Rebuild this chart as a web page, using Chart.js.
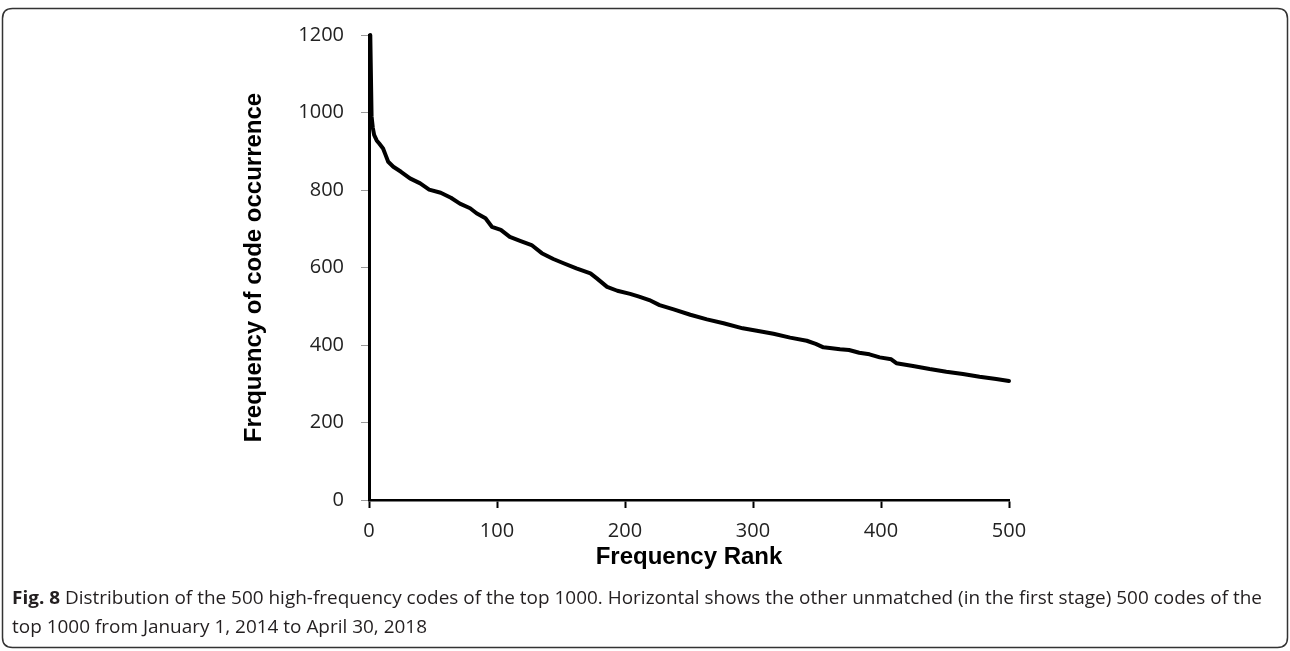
<!DOCTYPE html>
<html>
<head>
<meta charset="utf-8">
<script src="https://cdn.jsdelivr.net/npm/chart.js@4/dist/chart.umd.min.js"></script>
<style>
  html, body { margin: 0; padding: 0; background: #fff; }
  #wrap { width: 1290px; height: 651px; }
</style>
</head>
<body>
<div id="wrap"><canvas id="c" width="1290" height="651"></canvas></div>
<script>
// Frequency rank (x) and frequency of code occurrence (y)
const ranks = [1,2,3,4,6,8,11,13,15,19,25,32,40,47,56,64,71,79,84,91,96,103,110,118,127,135,144,152,162,173,178,186,194,204,211,219,227,238,251,264,277,292,303,316,329,342,349,355,360,368,375,383,391,399,408,412,425,438,451,464,477,490,500];
const freq = [1200,990,960,942,928,920,907,890,873,860,847,830,817,801,793,780,765,753,740,727,705,697,679,669,658,637,622,611,598,585,572,550,540,532,525,516,503,492,478,466,456,443,437,429,419,411,403,394,392,389,387,380,376,368,363,353,346,338,331,325,318,312,307];
const xTicks = [0,100,200,300,400,500];
const yTicks = [0,200,400,600,800,1000,1200];
const xTitle = 'Frequency Rank';
const yTitle = 'Frequency of code occurrence';
const captionBold = 'Fig. 8';
const captionLine1 = ' Distribution of the 500 high-frequency codes of the top 1000. Horizontal shows the other unmatched (in the first stage) 500 codes of the';
const captionLine2 = 'top 1000 from January 1, 2014 to April 30, 2018';

const points = ranks.map((r, i) => ({x: r, y: freq[i]}));

const framePlugin = {
  id: 'frame',
  afterDraw(chart) {
    const ctx = chart.ctx;
    ctx.save();
    ctx.strokeStyle = '#333';
    ctx.lineWidth = 1.5;
    const x0 = 2.5, y0 = 8.5, x1 = 1287.5, y1 = 647.5, r = 10;
    ctx.beginPath();
    ctx.moveTo(x0 + r, y0);
    ctx.lineTo(x1 - r, y0);
    ctx.quadraticCurveTo(x1, y0, x1, y0 + r);
    ctx.lineTo(x1, y1 - r);
    ctx.quadraticCurveTo(x1, y1, x1 - r, y1);
    ctx.lineTo(x0 + r, y1);
    ctx.quadraticCurveTo(x0, y1, x0, y1 - r);
    ctx.lineTo(x0, y0 + r);
    ctx.quadraticCurveTo(x0, y0, x0 + r, y0);
    ctx.stroke();
    const boldFont = 'bold 18px "Open Sans"';
    const regFont = '18px "Open Sans"';
    ctx.font = boldFont;
    const wb = ctx.measureText(captionBold).width;
    ctx.font = regFont;
    const w1 = ctx.measureText(captionLine1).width;
    const sx = 1250 / (wb + w1);
    ctx.fillStyle = '#231f20';
    ctx.textBaseline = 'alphabetic';
    ctx.textAlign = 'left';
    ctx.translate(12, 0);
    ctx.scale(sx, 1);
    ctx.font = boldFont;
    ctx.fillText(captionBold, 0, 604);
    ctx.font = regFont;
    ctx.fillText(captionLine1, wb, 604);
    ctx.fillText(captionLine2, 0, 633);
    ctx.restore();
  }
};

new Chart(document.getElementById('c'), {
  type: 'scatter',
  data: {
    datasets: [{
      data: points,
      showLine: true,
      borderColor: '#000',
      borderWidth: 4,
      borderJoinStyle: 'round',
      borderCapStyle: 'round',
      pointRadius: 0,
      tension: 0,
      fill: false,
      clip: false
    }]
  },
  options: {
    responsive: false,
    devicePixelRatio: 1,
    animation: false,
    plugins: { legend: { display: false }, tooltip: { enabled: false } },
    layout: { padding: { left: 0, right: 281, top: 35, bottom: 71 } },
    scales: {
      x: {
        type: 'linear',
        min: 0, max: 500,
        afterBuildTicks(scale) { scale.ticks = xTicks.map(v => ({value: v})); },
        afterFit(scale) { scale.height = 80; },
        grid: { drawOnChartArea: false, drawTicks: true, tickLength: 8, tickColor: '#000', tickWidth: 2 },
        border: { display: true, color: '#000', width: 2.5 },
        ticks: { color: '#222', font: { family: '"Open Sans"', size: 20 }, padding: 11, maxRotation: 0, callback: v => String(v) },
        title: { display: true, text: xTitle, color: '#000', font: { family: '"Liberation Sans"', size: 24, weight: 'bold' }, padding: { top: 0, bottom: 8 } }
      },
      y: {
        type: 'linear',
        min: 0, max: 1200,
        afterBuildTicks(scale) { scale.ticks = yTicks.map(v => ({value: v})); },
        afterFit(scale) { scale.width = 369; },
        grid: { drawOnChartArea: false, drawTicks: true, tickLength: 8, tickColor: '#999', tickWidth: 1 },
        border: { display: true, color: '#000', width: 3 },
        ticks: { color: '#222', font: { family: '"Open Sans"', size: 20 }, padding: 17, callback: v => String(v) },
        title: { display: true, text: yTitle, color: '#000', font: { family: '"Liberation Sans"', size: 24, weight: 'bold' }, padding: { top: 240, bottom: 0 } }
      }
    }
  },
  plugins: [framePlugin]
});
</script>
</body>
</html>
